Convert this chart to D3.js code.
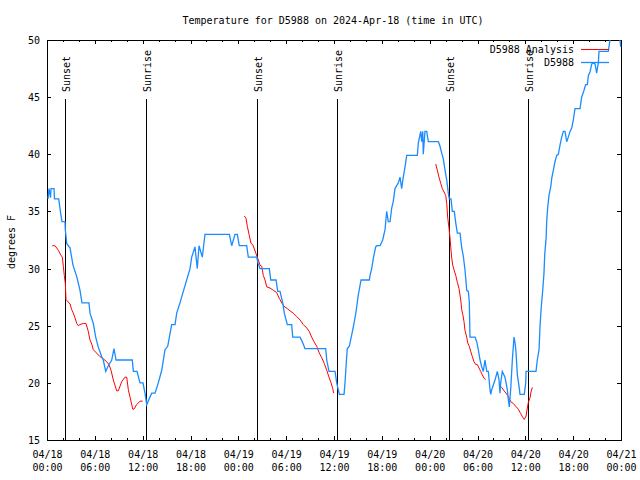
<!DOCTYPE html>
<html><head><meta charset="utf-8">
<script src="https://cdn.jsdelivr.net/npm/d3@7"></script>
<style>
body{margin:0;background:#fff}
svg text{font-family:"DejaVu Sans Mono","Liberation Mono",monospace;font-size:10px;fill:#000}
</style></head><body>
<svg id="chart" width="640" height="480"></svg>
<script>
const title = "Temperature for D5988 on 2024-Apr-18 (time in UTC)";
const yLabel = "degrees F";
const startTime = "2024-04-18T00:00:00Z";
const endTime = "2024-04-21T00:00:00Z";
const yTicks = [15, 20, 25, 30, 35, 40, 45, 50];
const seriesNames = ["D5988 Analysis", "D5988"];
const sunLabels = ["Sunset", "Sunrise", "Sunset", "Sunrise", "Sunset", "Sunrise"];
const sunTimes = ["2024-04-18T02:16:00Z", "2024-04-18T12:25:00Z", "2024-04-19T02:20:00Z",
                  "2024-04-19T12:23:00Z", "2024-04-20T02:26:00Z", "2024-04-20T12:20:00Z"];

// observations: [hours since 2024-04-18 00:00 UTC, temperature F]
const obsApr18 = [[0.13,36.1],[0.25,37],[0.44,36.2],[0.50,37],[0.88,37],[0.94,36.1],[1.47,36.1],[1.72,34.8],
  [1.88,34.1],[2.26,34.1],[2.30,33.4],[2.47,32.2],[2.89,31.8],[3.26,30.3],[3.73,29.3],[4.14,28.1],[4.39,27],
  [5.27,27],[5.39,26.1],[5.81,25.2],[6.11,24],[6.44,23.1],[6.86,22.3],[7.06,22],[7.36,21],[7.69,21.5],[8.12,22],
  [8.40,23],[8.66,22],[10.70,22],[10.83,21],[11.29,21],[11.67,20],[12.04,20],[12.29,19.1],[12.51,18.1],[13.13,19.1],
  [13.55,19.1],[13.96,20],[14.39,21.1],[14.80,22.9],[15.14,23.2],[15.64,25.1],[16.06,25.1],[16.27,26.1],[16.68,27],
  [17.10,28],[17.52,29],[17.94,30],[18.15,31],[18.56,31.9],[18.85,30],[19.07,32],[19.48,31],[19.82,33],[22.87,33],
  [23.17,32],[23.58,33],[23.87,33]];
const obsApr19 = [[24.12,32],[25.05,32],[25.25,31],[26.30,31],[26.50,30.4],[26.72,30],[27.89,30],[28.06,29],[28.73,29],
  [28.94,28],[29.23,28],[29.57,27],[29.77,26.1],[30.14,25.1],[30.70,25.1],[30.82,24],[31.74,24],[32.08,23.5],[32.36,23],
  [34.96,23],[35.09,22],[35.37,21],[36.13,21],[36.34,20],[36.47,19.6],[36.67,19],[37.26,19],[37.38,20],[37.59,22.3],
  [37.67,23],[37.92,23.2],[38.22,24.2],[38.51,25.2],[38.76,26.2],[39.05,27.7],[39.39,29],[40.43,29],[40.52,29.4],
  [40.73,30],[40.93,30.9],[41.23,31.9],[41.36,32],[41.77,32],[42.11,32.5],[42.40,33.4],[42.61,35],[42.81,34.1],
  [43.03,34.1],[43.24,35.3],[43.44,35.9],[43.65,37],[44.07,37.5],[44.28,38],[44.49,37],[44.69,38],[44.91,38.9],
  [45.12,39.9],[46.45,39.9],[46.58,41],[46.88,42],[47.00,41.1],[47.13,42],[47.20,40],[47.41,42],[47.63,42],[47.83,41.1]];
const obsApr20 = [[49.09,41.1],[49.30,40.7],[49.51,40.1],[49.71,39.6],[49.93,38.6],[50.14,37.75],[50.34,36.6],
  [50.46,36.1],[50.68,36.1],[50.84,35],[51.09,35],[51.27,34],[51.47,33.1],[51.81,33.1],[52.02,31.8],[52.22,31.1],
  [52.43,29.9],[52.65,28.1],[52.85,28],[52.97,27.1],[53.06,24],[53.69,24],[53.90,23.6],[54.10,22.9],[54.32,22],
  [54.53,21.4],[54.73,21],[54.94,22],[55.16,21],[55.36,21],[55.57,19.4],[55.66,19],[55.78,19.4],[56.20,20.25],
  [56.49,21],[56.70,20.25],[56.82,19.1],[56.91,20],[57.11,21],[57.45,20.5],[57.58,20],[57.74,19.4],[57.87,18.5],
  [57.99,17.9],[58.17,19.5],[58.37,22],[58.58,24],[58.71,23.5],[58.83,22.7],[59.00,20.7],[59.25,19.5],[59.33,19],
  [59.87,19],[60.05,20],[60.09,21],[61.34,21],[61.50,22],[61.72,22.9],[61.84,24.9],[61.97,26.4],[62.18,28.1],
  [62.34,29.6],[62.43,31.2],[62.60,32.6],[62.68,34.1],[62.81,35.4],[62.97,36.4],[63.22,37.3],[63.31,37.9],
  [63.51,38.6],[63.72,39.35],[63.94,39.9],[64.14,40],[64.35,40.8],[64.56,41.5],[64.77,42],[64.98,42],[65.19,41.1],
  [65.39,41.5],[65.61,42],[65.82,42.3],[66.02,43],[66.23,44],[66.86,44],[67.07,45],[67.36,45.6],[67.57,46.1],
  [67.78,46.1],[67.91,46.9],[68.11,47.2],[68.33,47.9],[68.53,48],[68.74,47.9],[68.95,47.1],[69.03,47.5],[69.16,48],
  [69.24,49],[70.41,49],[70.62,50],[70.83,50.5],[71.79,50.3],[71.88,49.9],[71.97,49.4]];

// analysis: [hours since 2024-04-18 00:00 UTC, temperature F]
const anaNight1 = [[0.66,32],[1.00,32],[1.22,31.8],[1.42,31.6],[1.72,31.2],[1.92,31],[2.05,30.2],[2.17,29.4],
  [2.30,28.7],[2.38,27.3],[2.89,26.9],[3.10,26.4],[3.30,26.1],[3.51,25.7],[3.73,25.2],[3.93,25],[4.14,25.1],
  [4.55,25.2],[4.89,25.2],[5.18,24.5],[5.39,23.75],[5.61,23.4],[5.81,22.9],[6.23,22.6],[6.65,22.3],[7.06,22.1],
  [7.49,21.85],[7.78,21.6],[8.03,21.1],[8.32,20.25],[8.74,19.3],[8.94,19.3],[9.37,20.1],[9.78,20.5],[10.00,20.5],
  [10.20,19.4],[10.50,18.5],[10.75,17.7],[10.91,17.7],[11.25,18.1],[11.67,18.4],[12.00,18.4]];
const anaNight2 = [[24.75,34.6],[24.96,34.4],[25.13,33.7],[25.34,33],[25.59,32.2],[25.80,32.1],[25.97,31.8],
  [26.22,31.3],[26.51,30.75],[26.72,30.3],[26.93,30.2],[27.13,29.4],[27.35,29],[27.56,28.4],[27.97,28.3],
  [28.39,28.1],[28.81,27.9],[29.14,27.4],[29.44,27],[29.73,26.7],[30.14,26.5],[30.48,26.3],[30.90,26.1],
  [31.32,25.8],[31.74,25.5],[32.15,25.1],[32.58,24.8],[32.90,24.5],[33.20,24],[33.49,23.6],[33.83,23.2],
  [34.16,22.6],[34.46,22.2],[34.78,21.7],[35.09,21.1],[35.37,20.5],[35.63,20],[35.84,19.5],[35.96,19.1]];
const anaNight3a = [[48.76,39.15],[48.96,38.6],[49.17,38],[49.39,37.45],[49.59,37],[49.80,36.7],[50.01,36.4],
  [50.14,35.7],[50.26,34.5],[50.43,33.5],[50.55,32.7],[50.64,31.9],[50.77,30.9],[50.89,30.3],[51.05,29.9],
  [51.27,29.4],[51.47,28.8],[51.68,28.25],[51.90,27.25],[52.02,26.4],[52.15,26],[52.31,25.35],[52.43,24.6],
  [52.65,24],[52.77,23.5],[52.97,23.2],[53.15,22.75],[53.35,22.3],[53.56,21.85],[53.78,21.6],[53.98,21.6],
  [54.19,21.3],[54.40,21],[54.61,20.7],[54.82,20.4],[55.03,20.3]];
const anaNight3b = [[56.70,19.8],[57.04,19.6],[57.33,19.3],[57.58,19.1],[57.87,18.8],[58.17,18.35],[58.49,18.2],
  [58.79,17.95],[59.12,17.7],[59.42,17.3],[59.67,17],[59.87,16.8],[60.09,17.1],[60.25,17.8],[60.38,18.3],
  [60.59,18.7],[60.71,19.2],[60.88,19.6]];

const t0 = new Date(startTime), t1 = new Date(endTime);
const toDate = h => new Date(t0.getTime() + h * 3600e3);

const svg = d3.select("#chart");
const L = 47, R = 621, T = 40, B = 440;
const x = d3.scaleUtc().domain([t0, t1]).range([L, R]);
const y = d3.scaleLinear().domain([15, 50]).range([B, T]);

svg.append("defs").append("clipPath").attr("id", "clip")
  .append("rect").attr("x", L).attr("y", T).attr("width", R - L + 1).attr("height", B - T + 1);

// title
svg.append("text").attr("x", 333).attr("y", 20).attr("dy", "0.35em")
  .attr("text-anchor", "middle").text(title);
// y label
svg.append("text").attr("transform", "translate(11,242) rotate(-90)")
  .attr("dy", "0.35em").attr("text-anchor", "middle").text(yLabel);

// axes
const fmt1 = d3.utcFormat("%m/%d"), fmt2 = d3.utcFormat("%H:%M");
const majorX = d3.utcHour.every(6), minorX = d3.utcHour.every(2);
function ax(gen, tr, vals, size) {
  const g = svg.append("g").attr("transform", tr).attr("shape-rendering", "crispEdges")
    .call(gen.tickValues(vals).tickSizeInner(size).tickSizeOuter(0).tickFormat(""));
  g.selectAll("path,line").attr("stroke", "#000");
  g.selectAll("text").remove();
  return g;
}
const minorVals = x.ticks(minorX), majorVals = x.ticks(majorX);
ax(d3.axisBottom(x), `translate(0,${B})`, minorVals, -2);
ax(d3.axisTop(x), `translate(0,${T})`, minorVals, -2);
ax(d3.axisBottom(x), `translate(0,${B})`, majorVals, -4);
ax(d3.axisTop(x), `translate(0,${T})`, majorVals, -4);
ax(d3.axisLeft(y), `translate(${L},0)`, yTicks, -4);
ax(d3.axisRight(y), `translate(${R},0)`, yTicks, -4);

// x tick labels (two lines)
const xl = svg.append("g");
majorVals.forEach(d => {
  const t = xl.append("text").attr("text-anchor", "middle");
  t.append("tspan").attr("x", x(d) + 0.5).attr("y", 454).attr("dy", "0.35em").text(fmt1(d));
  t.append("tspan").attr("x", x(d) + 0.5).attr("y", 467).attr("dy", "0.35em").text(fmt2(d));
});
// y tick labels
svg.append("g").selectAll("text").data(yTicks).join("text")
  .attr("x", 40).attr("y", d => y(d) + 0.5).attr("dy", "0.35em")
  .attr("text-anchor", "end").text(d => d);

// sunrise / sunset markers
const sunG = svg.append("g");
sunTimes.forEach((s, i) => {
  const sx = Math.round(x(new Date(s))) + 0.5;
  sunG.append("line").attr("x1", sx).attr("x2", sx).attr("y1", T + 59).attr("y2", B)
    .attr("stroke", "#000").attr("stroke-width", 1).attr("shape-rendering", "crispEdges");
  sunG.append("text").attr("transform", `translate(${sx + 1},${T + 52}) rotate(-90)`)
    .attr("dy", "0.35em").attr("text-anchor", "start").text(sunLabels[i]);
});

// data lines
const line = d3.line().defined(d => d[1] != null)
  .x(d => x(toDate(d[0]))).y(d => y(d[1]));
const plot = svg.append("g").attr("clip-path", "url(#clip)");
const gap = [[null, null]];
const ana = [].concat(anaNight1, gap, anaNight2, gap, anaNight3a, gap, anaNight3b);
const obs = [].concat(obsApr18, obsApr19, obsApr20);
plot.append("path").datum(ana).attr("d", line).attr("fill", "none")
  .attr("stroke", "#ff0000").attr("stroke-width", 1);
plot.append("path").datum(obs).attr("d", line).attr("fill", "none")
  .attr("stroke", "#1a8cff").attr("stroke-width", 1.3);

// legend
const colors = ["#ff0000", "#1a8cff"];
seriesNames.forEach((n, i) => {
  const ly = 49.5 + i * 13;
  svg.append("text").attr("x", 574).attr("y", ly).attr("dy", "0.35em")
    .attr("text-anchor", "end").text(n);
  svg.append("line").attr("x1", 581).attr("x2", 609).attr("y1", ly).attr("y2", ly)
    .attr("stroke", colors[i]).attr("stroke-width", i ? 1.3 : 1);
});
</script>
</body></html>
